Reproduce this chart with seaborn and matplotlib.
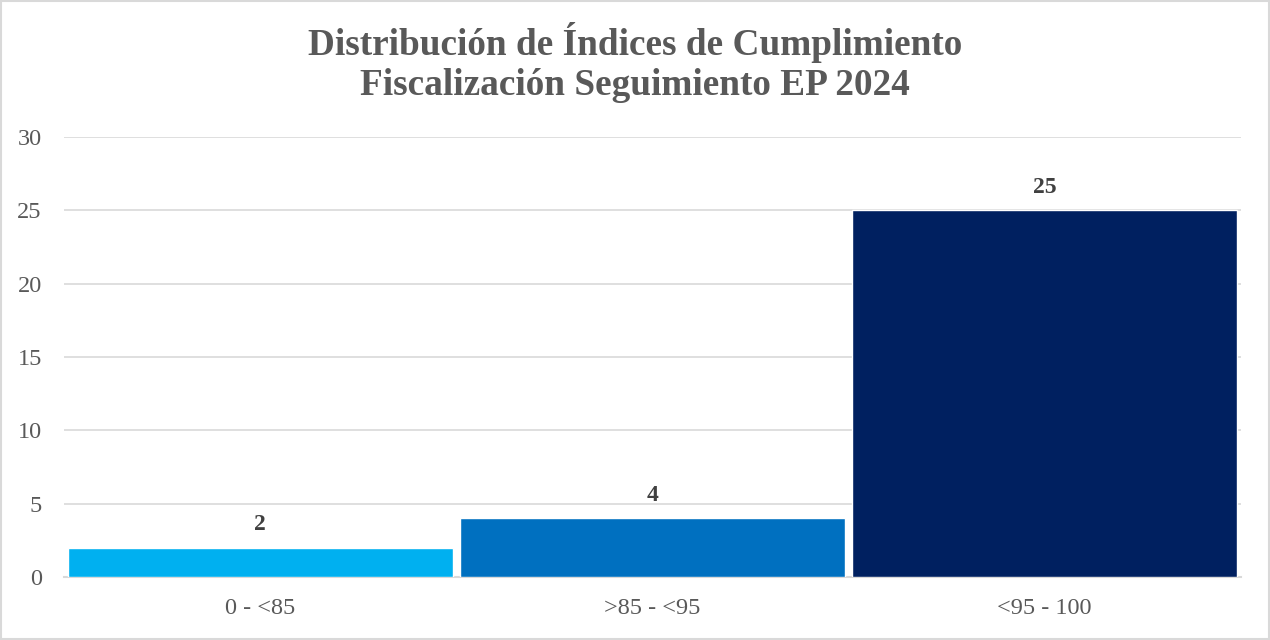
import matplotlib
matplotlib.use('Agg')
import matplotlib.pyplot as plt
import seaborn as sns
import pandas as pd
from matplotlib.patches import Rectangle

categories = ['0 - <85', '>85 - <95', '<95 - 100']
counts = [2, 4, 25]
bar_colors = ['#00B0F0', '#0070C0', '#002060']
y_ticks = [0, 5, 10, 15, 20, 25, 30]

sns.set_style('white')
plt.rcParams['font.family'] = ['Liberation Serif', 'DejaVu Serif']

df = pd.DataFrame({'rango': categories, 'cantidad': counts})

fig = plt.figure(figsize=(12.7, 6.4), dpi=100)
ax = fig.add_axes([0.0504, 0.0984, 0.9266, 0.6876])

sns.barplot(data=df, x='rango', y='cantidad', hue='rango', palette=bar_colors,
            width=0.982, legend=False, saturation=1, ax=ax, zorder=3)

ax.set_ylim(0, 30)
ax.set_xlim(-0.5, 2.5)
ax.set_yticks(y_ticks)
ax.yaxis.grid(True, color='#D9D9D9', linewidth=1.2, zorder=0)
ax.set_axisbelow(True)
for side in ['top', 'right', 'left']:
    ax.spines[side].set_visible(False)
ax.spines['bottom'].set_color('#D9D9D9')
ax.spines['bottom'].set_linewidth(1.5)
ax.tick_params(axis='both', length=0, labelsize=17.5, colors='#595959')
ax.tick_params(axis='x', pad=15)
ax.tick_params(axis='y', pad=16)
ax.set_xlabel('')
ax.set_ylabel('')

for i, v in enumerate(counts):
    ax.annotate(str(v), (i, v), xytext=(0, 9), textcoords='offset points',
                ha='center', va='bottom', fontsize=17, fontweight='bold',
                color='#404040')

fig.text(0.5, 0.903, 'Distribución de Índices de Cumplimiento\nFiscalización Seguimiento EP 2024',
         ha='center', va='center', fontsize=26.8, fontweight='bold', color='#595959',
         linespacing=1.18)

fig.patches.append(Rectangle((0.001, 0.001), 0.998, 0.997, transform=fig.transFigure,
                             fill=False, edgecolor='#D9D9D9', linewidth=1.5))

fig.savefig('out.png', dpi=100)
